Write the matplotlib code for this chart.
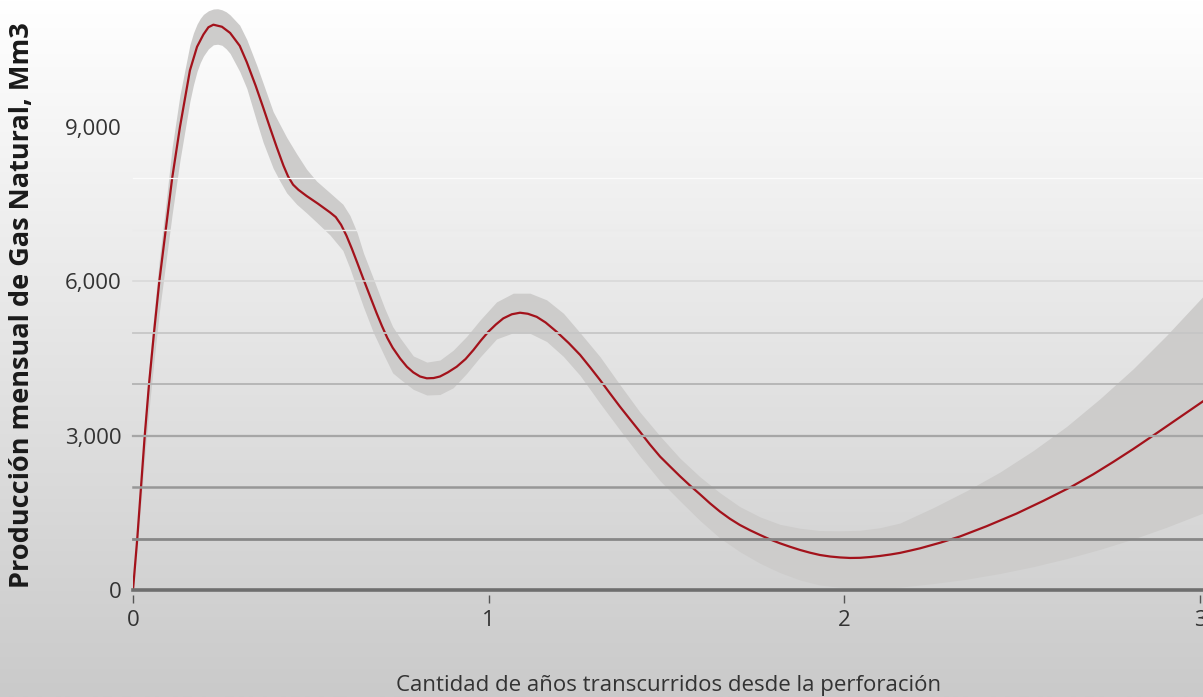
import numpy as np
import matplotlib
matplotlib.use("Agg")
import matplotlib.pyplot as plt

plt.rcParams['font.family'] = ['Open Sans', 'DejaVu Sans']

# ---- data ----
years = [0.000, 0.012, 0.0225, 0.033, 0.045, 0.059, 0.074, 0.092, 0.110, 0.132,
         0.146, 0.160, 0.180, 0.198, 0.212, 0.226, 0.250, 0.273, 0.300, 0.320,
         0.345, 0.366, 0.385, 0.404, 0.423, 0.436, 0.450, 0.465, 0.488, 0.520,
         0.554, 0.570, 0.585, 0.600, 0.615, 0.630, 0.648, 0.667, 0.685, 0.700,
         0.715, 0.730, 0.751, 0.770, 0.788, 0.807, 0.826, 0.845, 0.863, 0.885,
         0.910, 0.935, 0.957, 0.978, 0.999, 1.020, 1.041, 1.065, 1.088, 1.110,
         1.135, 1.160, 1.191, 1.225, 1.257, 1.285, 1.313, 1.340, 1.369, 1.397,
         1.425, 1.453, 1.482, 1.510, 1.538, 1.566, 1.594, 1.622, 1.650, 1.678,
         1.706, 1.735, 1.763, 1.790, 1.819, 1.847, 1.875, 1.903, 1.931, 1.960,
         1.988, 2.016, 2.044, 2.072, 2.100, 2.130, 2.156, 2.185, 2.213, 2.270,
         2.325, 2.400, 2.484, 2.560, 2.639, 2.700, 2.756, 2.812, 2.873, 2.930,
         2.970, 3.010]
production = [0, 1000, 2000, 3000, 4000, 5000, 6000, 7000, 8000, 9000,
              9550, 10100, 10560, 10800, 10940, 10990, 10950, 10830, 10580, 10260,
              9800, 9380, 8990, 8610, 8250, 8040, 7880, 7780, 7660, 7510,
              7340, 7250, 7100, 6890, 6640, 6370, 6040, 5700, 5380, 5130,
              4900, 4710, 4500, 4340, 4230, 4150, 4115, 4120, 4150, 4230,
              4340, 4490, 4665, 4850, 5020, 5160, 5280, 5360, 5390, 5370,
              5310, 5200, 5020, 4800, 4570, 4330, 4082, 3830, 3564, 3320,
              3078, 2830, 2592, 2400, 2210, 2030, 1860, 1685, 1525, 1385,
              1264, 1160, 1069, 985, 907, 840, 778, 725, 680, 650,
              632, 622, 625, 640, 661, 690, 720, 765, 810, 920,
              1040, 1240, 1485, 1735, 2010, 2250, 2490, 2740, 3025, 3296,
              3486, 3676]

band_years = [0.000, 0.012, 0.0225, 0.033, 0.045, 0.059, 0.074, 0.092, 0.110, 0.132,
              0.160, 0.170, 0.180, 0.189, 0.198, 0.212, 0.226, 0.238, 0.250, 0.262,
              0.273, 0.300, 0.320, 0.348, 0.366,
              0.394, 0.413, 0.432, 0.460, 0.488, 0.516, 0.554, 0.590, 0.610, 0.630,
              0.648, 0.676, 0.708, 0.730, 0.751, 0.788, 0.826, 0.863, 0.900, 0.938,
              0.976, 1.022, 1.069, 1.116, 1.163, 1.210, 1.257, 1.313, 1.369, 1.425,
              1.482, 1.538, 1.594, 1.650, 1.706, 1.763, 1.819, 1.875, 1.931, 1.988,
              2.044, 2.100, 2.156, 2.250, 2.344, 2.437, 2.531, 2.625, 2.719, 2.812,
              2.906, 3.010]
band_upper = [30, 1150, 2230, 3280, 4330, 5380, 6420, 7480, 8600, 9620,
              10600, 10830, 11000, 11110, 11190, 11260, 11295, 11300, 11280, 11240,
              11180, 10980, 10700, 10200, 9850,
              9300, 9050, 8800, 8480, 8180, 7950, 7720, 7500, 7280, 6950,
              6550, 6050, 5470, 5120, 4900, 4550, 4430, 4470, 4660, 4930,
              5250, 5600, 5770, 5770, 5640, 5380, 5000, 4535, 3990, 3460,
              2990, 2560, 2200, 1890, 1620, 1420, 1275, 1200, 1155, 1150,
              1160, 1210, 1300, 1600, 1930, 2290, 2710, 3180, 3720, 4300,
              4950, 5720]
band_lower = [0, 800, 1680, 2580, 3500, 4450, 5400, 6350, 7300, 8350,
              9500, 9820, 10080, 10250, 10380, 10520, 10600, 10610, 10590, 10520,
              10430, 10080, 9750, 9100, 8700,
              8200, 7950, 7720, 7500, 7330, 7150, 6900, 6600, 6250, 5850,
              5500, 5000, 4530, 4220, 4100, 3900, 3790, 3800, 3930, 4210,
              4530, 4880, 5000, 4990, 4830, 4540, 4170, 3629, 3110, 2600,
              2120, 1730, 1350, 1010, 745, 518, 337, 194, 97, 52,
              32, 35, 55, 125, 210, 320, 453, 610, 790, 990,
              1220, 1500]

grid_levels = [0, 1000, 2000, 3000, 4000, 5000, 6000, 7000, 8000]
y_ticks = [0, 3000, 6000, 9000]
x_ticks = [0, 1, 2, 3]

# ---- figure ----
W, H = 1203, 697
fig = plt.figure(figsize=(W / 100, H / 100), dpi=100)

# background gradient
bg = fig.add_axes([0, 0, 1, 1], zorder=-10)
grad = np.linspace(255, 202, 300).reshape(-1, 1) / 255.0
bg.imshow(np.dstack([grad, grad, grad]), aspect='auto', extent=[0, 1, 0, 1],
          origin='upper')
bg.set_axis_off()

left = 133 / W
bottom = 1 - 595.1 / H
ax = fig.add_axes([left, bottom, 1074.2 / W, 595.1 / H])
ax.patch.set_alpha(0)
ax.set_xlim(0, 3.02)
ax.set_ylim(-100, 11470)

ax.fill_between(band_years, band_lower, band_upper, color='#cdcccb', lw=0, zorder=2)
ax.plot(years, production, color='#a3121b', lw=1.6, zorder=3,
        solid_capstyle='round', solid_joinstyle='round')

grid_colors = ['#6e6e6e', '#878787', '#979797', '#a6a6a6', '#b6b6b6',
               '#c6c6c6', '#d8d8d8', '#ebebeb', '#fbfbfb']
grid_widths = [2.6, 2.0, 1.8, 1.6, 1.4, 1.3, 1.1, 1.0, 0.9]
for lvl, c, w in zip(grid_levels, grid_colors, grid_widths):
    ax.axhline(lvl, color=c, lw=w, zorder=5, clip_on=False)

for s in ax.spines.values():
    s.set_visible(False)

ax.set_yticks(y_ticks)
ax.set_yticklabels([f"{v:,}" for v in y_ticks])
ax.set_xticks(x_ticks)
ax.set_xticklabels([str(v) for v in x_ticks])
ax.tick_params(axis='y', length=0, pad=8, labelsize=16, labelcolor='#333333')
ax.tick_params(axis='x', length=6, width=1, color='#555555', direction='out',
               pad=5, labelsize=16, labelcolor='#333333')

fig.text(669 / W, 1 - 686 / H, 'Cantidad de años transcurridos desde la perforación',
         ha='center', va='center', fontsize=16, color='#333333')
fig.text(22 / W, 1 - 305 / H, 'Producción mensual de Gas Natural, Mm3',
         ha='center', va='center', rotation=90, fontsize=19.5,
         fontweight='bold', color='#1a1a1a')

fig.savefig('out.png', dpi=100)
